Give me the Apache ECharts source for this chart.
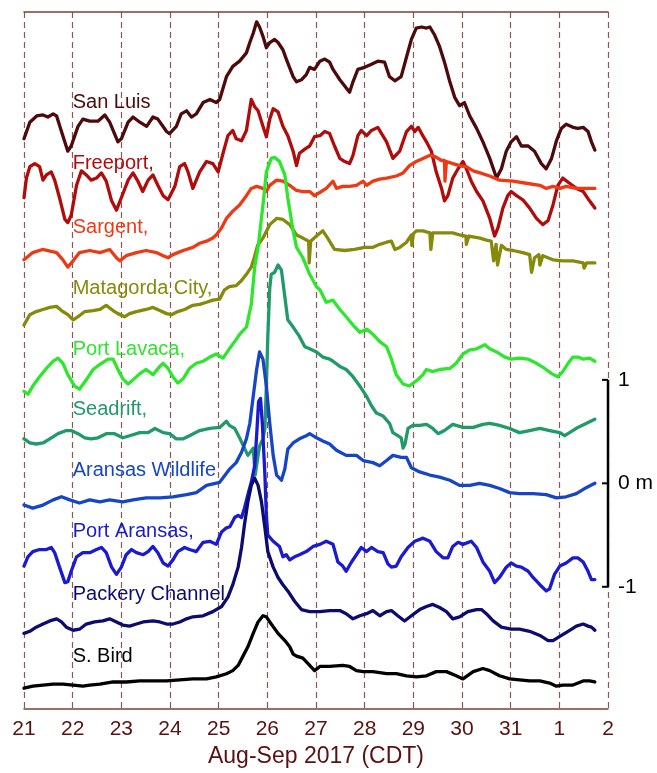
<!DOCTYPE html>
<html><head><meta charset="utf-8">
<script src="https://cdn.jsdelivr.net/npm/echarts@6/dist/echarts.min.js"></script>
<style>html,body{margin:0;padding:0;background:#fff}#c{width:657px;height:773px}</style>
</head><body><div id="c"></div>
<script>
// x: days since 21 Aug 2017 00:00 CDT ; y: water level in m, each station offset on a common metre scale
const tickLabels = ['21','22','23','24','25','26','27','28','29','30','31','1','2'];

const sanLuis = [[0,3.33],[0.12,3.49],[0.26,3.55],[0.39,3.56],[0.49,3.54],[0.6,3.57],[0.67,3.55],[0.77,3.40],[0.9,3.21],[0.97,3.26],[1.11,3.45],[1.21,3.52],[1.35,3.50],[1.52,3.50],[1.66,3.56],[1.76,3.49],[1.93,3.30],[2.0,3.33],[2.14,3.49],[2.24,3.54],[2.38,3.49],[2.52,3.45],[2.65,3.54],[2.75,3.52],[2.93,3.40],[2.99,3.38],[3.13,3.45],[3.23,3.57],[3.34,3.60],[3.44,3.54],[3.54,3.57],[3.68,3.68],[3.82,3.71],[3.95,3.68],[4.02,3.71],[4.16,3.93],[4.29,4.03],[4.43,4.08],[4.57,4.16],[4.64,4.26],[4.71,4.35],[4.78,4.46],[4.84,4.41],[4.91,4.32],[4.98,4.21],[5.05,4.26],[5.15,4.29],[5.22,4.26],[5.32,4.19],[5.39,4.10],[5.53,3.93],[5.6,3.88],[5.7,3.90],[5.8,3.95],[5.87,4.02],[5.97,4.00],[6.08,4.08],[6.18,4.10],[6.28,4.07],[6.35,4.00],[6.49,3.90],[6.59,3.84],[6.69,3.78],[6.76,3.88],[6.86,4.00],[7.0,4.02],[7.14,4.05],[7.27,4.08],[7.41,4.07],[7.51,3.93],[7.62,3.89],[7.75,3.93],[7.86,4.12],[7.96,4.29],[8.06,4.40],[8.17,4.41],[8.27,4.40],[8.34,4.41],[8.44,4.33],[8.54,4.22],[8.64,4.07],[8.75,3.88],[8.85,3.73],[8.95,3.65],[9.05,3.68],[9.16,3.55],[9.30,3.43],[9.43,3.30],[9.57,3.14],[9.71,2.95],[9.81,3.04],[9.91,3.21],[10.01,3.30],[10.12,3.35],[10.22,3.26],[10.36,3.26],[10.49,3.21],[10.63,3.09],[10.73,3.04],[10.84,3.14],[10.94,3.31],[11.04,3.43],[11.14,3.47],[11.28,3.44],[11.38,3.43],[11.49,3.44],[11.59,3.40],[11.66,3.30],[11.73,3.22]];

const freeport = [[0,2.76],[0.05,2.95],[0.12,3.06],[0.22,3.09],[0.32,3.06],[0.39,2.93],[0.46,2.98],[0.56,3.01],[0.63,2.93],[0.73,2.76],[0.84,2.55],[0.90,2.52],[0.97,2.59],[1.08,2.88],[1.18,3.02],[1.28,2.98],[1.38,2.93],[1.49,2.95],[1.59,3.00],[1.69,2.92],[1.80,2.73],[1.90,2.64],[2.0,2.76],[2.14,2.93],[2.24,3.00],[2.34,2.92],[2.44,2.82],[2.55,2.93],[2.65,2.98],[2.75,2.88],[2.86,2.78],[2.96,2.74],[3.10,2.87],[3.20,3.06],[3.30,3.09],[3.37,3.01],[3.47,2.85],[3.61,3.01],[3.75,3.11],[3.88,3.09],[3.99,3.01],[4.09,3.19],[4.19,3.36],[4.29,3.41],[4.36,3.33],[4.47,3.31],[4.57,3.41],[4.67,3.71],[4.74,3.64],[4.81,3.60],[4.91,3.45],[4.98,3.35],[5.05,3.52],[5.12,3.62],[5.22,3.59],[5.32,3.45],[5.42,3.36],[5.53,3.21],[5.60,3.07],[5.66,3.19],[5.77,3.23],[5.87,3.26],[5.97,3.35],[6.08,3.36],[6.18,3.40],[6.28,3.38],[6.38,3.26],[6.49,3.14],[6.59,3.11],[6.69,3.09],[6.76,3.17],[6.86,3.36],[6.93,3.41],[7.04,3.36],[7.14,3.41],[7.27,3.44],[7.45,3.30],[7.58,3.14],[7.72,3.21],[7.86,3.40],[7.96,3.45],[8.03,3.40],[8.10,3.44],[8.17,3.38],[8.27,3.30],[8.37,3.21],[8.47,3.01],[8.58,2.85],[8.64,2.73],[8.71,2.78],[8.81,2.95],[8.92,3.04],[9.02,3.11],[9.09,3.04],[9.19,2.92],[9.30,2.82],[9.43,2.73],[9.57,2.56],[9.67,2.39],[9.74,2.47],[9.84,2.66],[9.94,2.78],[10.01,2.82],[10.12,2.78],[10.25,2.74],[10.39,2.66],[10.53,2.56],[10.66,2.50],[10.77,2.54],[10.87,2.69],[10.97,2.88],[11.07,2.95],[11.21,2.90],[11.35,2.85],[11.49,2.82],[11.62,2.73],[11.73,2.66]];

const sargent = [[0,2.16],[0.18,2.23],[0.38,2.26],[0.67,2.23],[0.80,2.16],[0.90,2.09],[1.01,2.15],[1.14,2.23],[1.35,2.25],[1.56,2.23],[1.76,2.26],[1.90,2.18],[1.97,2.15],[2.10,2.20],[2.31,2.23],[2.51,2.25],[2.72,2.23],[2.86,2.20],[2.96,2.18],[3.06,2.21],[3.27,2.25],[3.47,2.28],[3.61,2.32],[3.75,2.34],[3.88,2.37],[3.95,2.40],[4.06,2.47],[4.16,2.56],[4.29,2.63],[4.43,2.69],[4.57,2.78],[4.67,2.85],[4.78,2.87],[4.91,2.85],[4.98,2.82],[5.05,2.88],[5.19,2.93],[5.32,2.92],[5.46,2.88],[5.60,2.83],[5.73,2.82],[5.87,2.82],[5.97,2.78],[6.11,2.82],[6.21,2.85],[6.35,2.92],[6.42,2.85],[6.55,2.87],[6.69,2.87],[6.83,2.88],[6.97,2.92],[7.04,2.88],[7.17,2.92],[7.31,2.94],[7.45,2.95],[7.65,2.97],[7.79,3.00],[7.92,3.07],[8.06,3.11],[8.20,3.14],[8.34,3.17],[8.44,3.16],[8.58,3.12],[8.64,3.12],[8.65,2.92],[8.67,2.92],[8.68,3.11],[8.81,3.09],[8.95,3.07],[9.09,3.06],[9.23,3.02],[9.37,3.00],[9.57,2.97],[9.77,2.93],[10.05,2.92],[10.32,2.90],[10.60,2.88],[10.73,2.85],[10.87,2.87],[11.01,2.85],[11.14,2.87],[11.35,2.85],[11.56,2.85],[11.73,2.85]];

const matagorda = [[0,1.53],[0.12,1.63],[0.25,1.66],[0.39,1.68],[0.53,1.70],[0.67,1.71],[0.77,1.67],[0.90,1.63],[1.01,1.58],[1.11,1.61],[1.25,1.66],[1.42,1.67],[1.56,1.68],[1.69,1.72],[1.83,1.67],[1.93,1.64],[2.07,1.61],[2.17,1.64],[2.31,1.66],[2.51,1.68],[2.65,1.70],[2.79,1.67],[2.93,1.64],[3.03,1.63],[3.16,1.66],[3.30,1.68],[3.47,1.72],[3.61,1.73],[3.75,1.75],[3.88,1.77],[4.02,1.78],[4.12,1.87],[4.22,1.90],[4.36,1.91],[4.47,1.96],[4.57,2.02],[4.67,2.09],[4.73,2.18],[4.80,2.30],[4.91,2.37],[5.05,2.50],[5.19,2.56],[5.32,2.55],[5.46,2.50],[5.60,2.40],[5.73,2.37],[5.85,2.34],[5.86,2.13],[5.88,2.13],[5.89,2.34],[6.01,2.39],[6.14,2.44],[6.24,2.37],[6.38,2.26],[6.59,2.25],[6.79,2.26],[7.0,2.28],[7.16,2.28],[7.31,2.31],[7.45,2.33],[7.55,2.34],[7.62,2.26],[7.72,2.28],[7.86,2.33],[7.96,2.40],[7.97,2.30],[7.99,2.30],[8.00,2.41],[8.06,2.44],[8.20,2.44],[8.34,2.42],[8.36,2.26],[8.38,2.26],[8.40,2.42],[8.61,2.42],[8.81,2.42],[8.95,2.40],[9.08,2.39],[9.09,2.31],[9.11,2.31],[9.14,2.39],[9.37,2.37],[9.50,2.35],[9.60,2.34],[9.65,2.15],[9.67,2.15],[9.70,2.31],[9.73,2.11],[9.75,2.11],[9.81,2.30],[9.91,2.26],[10.05,2.25],[10.25,2.23],[10.39,2.21],[10.43,2.04],[10.45,2.04],[10.49,2.18],[10.58,2.21],[10.60,2.11],[10.62,2.11],[10.66,2.20],[10.87,2.16],[11.07,2.15],[11.28,2.15],[11.49,2.13],[11.51,2.08],[11.54,2.08],[11.56,2.13],[11.73,2.13]];

const portLavaca = [[0,0.89],[0.08,0.86],[0.18,0.94],[0.32,1.03],[0.46,1.11],[0.60,1.18],[0.70,1.21],[0.80,1.16],[0.90,1.05],[1.04,0.94],[1.14,0.91],[1.28,1.00],[1.42,1.10],[1.56,1.15],[1.73,1.20],[1.83,1.20],[1.93,1.10],[2.03,1.01],[2.14,0.96],[2.24,1.00],[2.38,1.06],[2.51,1.10],[2.65,1.05],[2.79,1.13],[2.86,1.16],[2.96,1.11],[3.06,1.03],[3.16,0.97],[3.27,1.01],[3.40,1.11],[3.54,1.16],[3.68,1.18],[3.82,1.22],[3.95,1.25],[4.09,1.21],[4.22,1.30],[4.33,1.37],[4.43,1.44],[4.57,1.51],[4.67,1.73],[4.74,2.09],[4.81,2.28],[4.91,2.69],[4.98,3.01],[5.08,3.14],[5.15,3.15],[5.25,3.11],[5.36,2.98],[5.42,2.76],[5.53,2.44],[5.60,2.28],[5.73,2.18],[5.87,2.02],[6.01,1.90],[6.08,1.87],[6.21,1.75],[6.35,1.77],[6.49,1.68],[6.62,1.61],[6.76,1.53],[6.90,1.46],[7.04,1.49],[7.17,1.44],[7.31,1.37],[7.45,1.32],[7.55,1.20],[7.65,1.05],[7.79,0.96],[7.92,0.94],[8.06,0.99],[8.20,1.05],[8.27,1.10],[8.40,1.08],[8.54,1.10],[8.75,1.11],[8.88,1.16],[9.02,1.25],[9.16,1.29],[9.30,1.30],[9.47,1.34],[9.57,1.30],[9.71,1.27],[9.88,1.22],[10.01,1.20],[10.18,1.21],[10.36,1.20],[10.53,1.16],[10.70,1.11],[10.84,1.06],[10.97,1.03],[11.07,1.08],[11.18,1.16],[11.28,1.22],[11.38,1.22],[11.49,1.20],[11.62,1.21],[11.73,1.18]];

const seadrift = [[0,0.43],[0.12,0.39],[0.25,0.38],[0.39,0.39],[0.53,0.43],[0.70,0.48],[0.87,0.51],[0.97,0.51],[1.11,0.48],[1.25,0.44],[1.38,0.43],[1.52,0.44],[1.69,0.48],[1.86,0.48],[2.03,0.44],[2.17,0.46],[2.38,0.49],[2.55,0.49],[2.69,0.53],[2.86,0.49],[2.99,0.48],[3.13,0.43],[3.27,0.43],[3.40,0.46],[3.61,0.51],[3.82,0.53],[4.02,0.54],[4.16,0.60],[4.22,0.56],[4.33,0.53],[4.43,0.44],[4.53,0.34],[4.60,0.27],[4.71,0.34],[4.75,0.08],[4.77,0.08],[4.81,0.27],[4.84,0.36],[4.91,0.43],[4.95,0.53],[4.98,0.94],[5.01,1.42],[5.05,1.89],[5.08,2.02],[5.15,2.04],[5.22,2.11],[5.29,2.06],[5.36,1.80],[5.42,1.58],[5.53,1.51],[5.66,1.42],[5.77,1.32],[5.87,1.30],[6.01,1.27],[6.14,1.22],[6.28,1.20],[6.35,1.18],[6.49,1.13],[6.62,1.10],[6.76,1.03],[6.90,0.94],[7.04,0.84],[7.14,0.75],[7.24,0.68],[7.38,0.65],[7.51,0.58],[7.58,0.49],[7.68,0.46],[7.75,0.44],[7.79,0.34],[7.81,0.34],[7.83,0.38],[7.89,0.53],[7.99,0.56],[8.13,0.56],[8.27,0.57],[8.40,0.53],[8.51,0.48],[8.64,0.51],[8.81,0.57],[9.02,0.54],[9.23,0.54],[9.43,0.57],[9.57,0.58],[9.77,0.56],[9.98,0.53],[10.18,0.49],[10.39,0.51],[10.60,0.53],[10.80,0.51],[11.01,0.49],[11.11,0.46],[11.21,0.49],[11.38,0.54],[11.56,0.58],[11.73,0.62]];

const aransasWildlife = [[0,-0.21],[0.18,-0.24],[0.39,-0.21],[0.60,-0.16],[0.77,-0.13],[0.94,-0.16],[1.14,-0.19],[1.35,-0.16],[1.56,-0.18],[1.76,-0.16],[2.03,-0.18],[2.24,-0.16],[2.51,-0.14],[2.79,-0.14],[3.06,-0.13],[3.34,-0.11],[3.54,-0.09],[3.75,-0.02],[4.02,0.01],[4.23,0.14],[4.36,0.20],[4.47,0.30],[4.57,0.43],[4.64,0.58],[4.71,0.84],[4.78,1.10],[4.84,1.27],[4.91,1.20],[4.98,0.94],[5.05,0.58],[5.12,0.27],[5.19,0.08],[5.29,0.03],[5.36,0.14],[5.42,0.33],[5.53,0.39],[5.66,0.43],[5.80,0.46],[5.87,0.48],[6.01,0.44],[6.14,0.41],[6.28,0.38],[6.42,0.32],[6.62,0.27],[6.83,0.27],[6.97,0.22],[7.17,0.20],[7.31,0.17],[7.45,0.22],[7.58,0.27],[7.75,0.25],[7.86,0.25],[7.96,0.15],[8.13,0.11],[8.34,0.08],[8.54,0.06],[8.75,0.03],[8.95,-0.02],[9.16,-0.02],[9.36,0],[9.57,-0.02],[9.77,-0.05],[9.98,-0.09],[10.18,-0.10],[10.46,-0.10],[10.73,-0.11],[10.94,-0.14],[11.14,-0.13],[11.35,-0.10],[11.56,-0.04],[11.73,0]];

const portAransas = [[0,-0.80],[0.08,-0.71],[0.18,-0.66],[0.32,-0.64],[0.46,-0.64],[0.56,-0.62],[0.63,-0.67],[0.73,-0.81],[0.84,-0.96],[0.90,-0.95],[0.97,-0.85],[1.08,-0.71],[1.21,-0.67],[1.35,-0.67],[1.49,-0.64],[1.59,-0.62],[1.69,-0.67],[1.80,-0.81],[1.90,-0.88],[2.00,-0.81],[2.10,-0.69],[2.21,-0.64],[2.31,-0.67],[2.45,-0.69],[2.55,-0.66],[2.65,-0.61],[2.75,-0.67],[2.86,-0.77],[2.96,-0.80],[3.06,-0.74],[3.16,-0.66],[3.30,-0.62],[3.40,-0.64],[3.54,-0.66],[3.68,-0.57],[3.82,-0.56],[3.95,-0.59],[4.06,-0.47],[4.16,-0.43],[4.23,-0.42],[4.33,-0.33],[4.40,-0.31],[4.47,-0.33],[4.53,-0.24],[4.60,-0.11],[4.67,0.01],[4.74,0.17],[4.78,0.46],[4.82,0.79],[4.86,0.82],[4.90,0.56],[4.95,0.08],[4.98,-0.31],[5.01,-0.50],[5.12,-0.56],[5.25,-0.61],[5.32,-0.71],[5.39,-0.69],[5.46,-0.74],[5.56,-0.71],[5.66,-0.69],[5.80,-0.66],[5.94,-0.61],[6.08,-0.59],[6.21,-0.56],[6.35,-0.59],[6.45,-0.76],[6.55,-0.80],[6.62,-0.85],[6.73,-0.76],[6.83,-0.69],[6.93,-0.62],[7.04,-0.66],[7.14,-0.62],[7.27,-0.66],[7.38,-0.67],[7.48,-0.78],[7.55,-0.81],[7.65,-0.80],[7.75,-0.71],[7.89,-0.62],[8.03,-0.56],[8.20,-0.53],[8.34,-0.56],[8.47,-0.66],[8.61,-0.72],[8.71,-0.72],[8.81,-0.61],[8.92,-0.57],[9.02,-0.59],[9.19,-0.56],[9.30,-0.62],[9.43,-0.76],[9.57,-0.85],[9.67,-0.96],[9.77,-0.91],[9.91,-0.81],[10.01,-0.77],[10.12,-0.80],[10.22,-0.81],[10.36,-0.85],[10.46,-0.91],[10.60,-0.98],[10.73,-1.04],[10.80,-1.02],[10.90,-0.88],[11.01,-0.80],[11.14,-0.77],[11.28,-0.72],[11.38,-0.72],[11.49,-0.76],[11.59,-0.85],[11.66,-0.93],[11.73,-0.93]];

const packeryChannel = [[0,-1.45],[0.12,-1.43],[0.25,-1.39],[0.39,-1.36],[0.53,-1.33],[0.67,-1.31],[0.77,-1.34],[0.87,-1.39],[1.01,-1.42],[1.14,-1.41],[1.28,-1.36],[1.45,-1.34],[1.62,-1.33],[1.76,-1.31],[1.90,-1.34],[2.03,-1.37],[2.17,-1.38],[2.31,-1.36],[2.45,-1.34],[2.65,-1.33],[2.79,-1.34],[2.93,-1.36],[3.06,-1.36],[3.20,-1.34],[3.34,-1.31],[3.47,-1.29],[3.68,-1.28],[3.88,-1.24],[4.06,-1.19],[4.19,-1.10],[4.29,-0.98],[4.40,-0.81],[4.47,-0.62],[4.53,-0.40],[4.60,-0.18],[4.67,-0.02],[4.74,0.05],[4.81,-0.02],[4.88,-0.18],[4.95,-0.43],[5.01,-0.66],[5.12,-0.81],[5.22,-0.91],[5.32,-0.98],[5.42,-1.04],[5.56,-1.14],[5.70,-1.22],[5.87,-1.24],[6.08,-1.24],[6.28,-1.23],[6.49,-1.23],[6.62,-1.26],[6.76,-1.31],[6.90,-1.28],[7.04,-1.26],[7.17,-1.23],[7.31,-1.28],[7.45,-1.24],[7.55,-1.23],[7.68,-1.28],[7.82,-1.33],[7.96,-1.28],[8.13,-1.22],[8.27,-1.19],[8.40,-1.17],[8.54,-1.20],[8.68,-1.24],[8.81,-1.31],[8.95,-1.29],[9.12,-1.24],[9.30,-1.22],[9.40,-1.22],[9.50,-1.26],[9.64,-1.33],[9.81,-1.39],[10.01,-1.41],[10.18,-1.41],[10.39,-1.43],[10.60,-1.47],[10.77,-1.52],[10.87,-1.52],[11.01,-1.48],[11.18,-1.43],[11.35,-1.38],[11.49,-1.36],[11.59,-1.38],[11.66,-1.39],[11.73,-1.42]];

const southBird = [[0,-1.98],[0.18,-1.96],[0.39,-1.95],[0.60,-1.94],[0.80,-1.94],[1.01,-1.95],[1.21,-1.96],[1.35,-1.95],[1.56,-1.94],[1.83,-1.92],[2.10,-1.92],[2.38,-1.91],[2.65,-1.91],[2.93,-1.91],[3.20,-1.90],[3.47,-1.89],[3.75,-1.89],[3.95,-1.87],[4.16,-1.84],[4.29,-1.81],[4.40,-1.76],[4.50,-1.67],[4.60,-1.58],[4.71,-1.45],[4.81,-1.34],[4.91,-1.28],[4.98,-1.29],[5.08,-1.36],[5.22,-1.45],[5.36,-1.52],[5.46,-1.58],[5.53,-1.65],[5.60,-1.67],[5.73,-1.69],[5.87,-1.76],[5.97,-1.81],[6.08,-1.77],[6.28,-1.77],[6.55,-1.76],[6.69,-1.77],[6.83,-1.81],[6.97,-1.82],[7.17,-1.82],[7.45,-1.84],[7.65,-1.84],[7.86,-1.86],[8.06,-1.87],[8.27,-1.86],[8.47,-1.82],[8.68,-1.82],[8.88,-1.86],[9.02,-1.89],[9.23,-1.82],[9.43,-1.79],[9.57,-1.81],[9.77,-1.86],[9.98,-1.89],[10.18,-1.90],[10.39,-1.91],[10.60,-1.91],[10.80,-1.93],[10.94,-1.96],[11.07,-1.95],[11.28,-1.95],[11.49,-1.91],[11.62,-1.91],[11.73,-1.92]];

const scaleBarEnds = [[12,-1],[12,1]];
const scaleTickValues = [[12,-1],[12,0],[12,1]];
const scaleTickLabels = ['-1','0 m','1'];

const FONT = "'Liberation Sans', Arial, Helvetica, sans-serif";
const stations = [
  {text:'San Luis',        data:sanLuis,         color:'#4e0a0a', labelY:3.68},
  {text:'Freeport,',       data:freeport,        color:'#b00c0c', labelY:3.09},
  {text:'Sargent,',        data:sargent,         color:'#ee3a14', labelY:2.47},
  {text:'Matagorda City,', data:matagorda,       color:'#858a0a', labelY:1.88},
  {text:'Port Lavaca,',    data:portLavaca,      color:'#2ee62e', labelY:1.29},
  {text:'Seadrift,',       data:seadrift,        color:'#1f9a68', labelY:0.71},
  {text:'Aransas Wildlife',data:aransasWildlife, color:'#1646c6', labelY:0.12},
  {text:'Port Aransas,',   data:portAransas,     color:'#1a1ad0', labelY:-0.47},
  {text:'Packery Channel', data:packeryChannel,  color:'#0c0c6e', labelY:-1.07},
  {text:'S. Bird',         data:southBird,       color:'#000000', labelY:-1.67}
];

const series = [];
stations.forEach(s => {
  series.push({
    type:'line', name:s.text, data:s.data, symbol:'none', showSymbol:false,
    lineStyle:{color:s.color, width:3.3, join:'round', cap:'round', opacity:1},
    itemStyle:{color:s.color}, animation:false, z:3
  });
});
stations.forEach(s => {
  series.push({
    type:'scatter', data:[[1, s.labelY]], symbolSize:0, silent:true, animation:false, z:6,
    itemStyle:{color:s.color, opacity:1},
    label:{show:true, position:'right', distance:0, formatter:s.text, color:s.color, opacity:1,
      textBorderWidth:0, fontSize:20, fontFamily:FONT}
  });
});
series.push({
  type:'line', data:scaleBarEnds, symbol:'none', clip:false, silent:true, animation:false, z:7,
  lineStyle:{color:'#000', width:2.5}
});
series.push({
  type:'scatter', data:scaleTickValues, symbol:'rect', symbolSize:[6,2], symbolOffset:[-3,0],
  clip:false, silent:true, animation:false, z:7, itemStyle:{color:'#000', opacity:1},
  label:{show:true, position:'right', distance:10, color:'#000', fontSize:21, fontFamily:FONT,
    formatter:p => scaleTickLabels[p.dataIndex]}
});

const chart = echarts.init(document.getElementById('c'), null, {renderer:'canvas'});
chart.setOption({
  animation:false,
  backgroundColor:'#ffffff',
  grid:{left:24, right:49, top:12, bottom:57, containLabel:false},
  xAxis:[{
    type:'value', min:0, max:12, interval:1, position:'bottom',
    axisLine:{show:true, onZero:false, lineStyle:{color:'#7a4038', width:1.5}},
    axisTick:{show:false},
    axisLabel:{formatter:v => tickLabels[Math.round(v)], color:'#5a1010', fontSize:21, margin:10, fontFamily:FONT},
    splitLine:{show:true, lineStyle:{color:'#8a5a52', type:[6,4], width:1.2}},
    name:'Aug-Sep 2017 (CDT)', nameLocation:'middle', nameGap:33,
    nameTextStyle:{color:'#5a1010', fontSize:23, fontFamily:FONT}
  },{
    type:'value', min:0, max:12, position:'top',
    axisLine:{show:true, onZero:false, lineStyle:{color:'#7a4038', width:1.5}},
    axisTick:{show:false}, axisLabel:{show:false}, splitLine:{show:false}
  }],
  yAxis:{type:'value', min:-2.182, max:4.555, show:false},
  series:series
});
</script>
</body></html>
